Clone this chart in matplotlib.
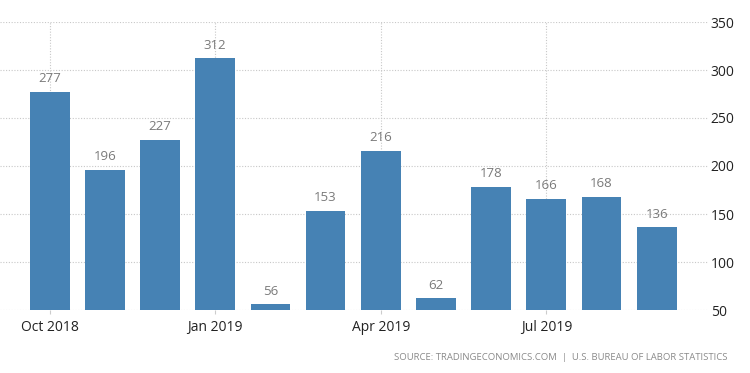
import matplotlib
matplotlib.use("Agg")
import matplotlib.pyplot as plt

months = ["Oct 2018", "Nov 2018", "Dec 2018", "Jan 2019", "Feb 2019", "Mar 2019",
          "Apr 2019", "May 2019", "Jun 2019", "Jul 2019", "Aug 2019", "Sep 2019"]
values = [277, 196, 227, 312, 56, 153, 216, 62, 178, 166, 168, 136]
tick_labels = ["Oct 2018", "Jan 2019", "Apr 2019", "Jul 2019"]
yticks = [50, 100, 150, 200, 250, 300, 350]
baseline = 50

plt.rcParams['font.family'] = ['Open Sans', 'DejaVu Sans']

fig = plt.figure(figsize=(7.5, 3.73), dpi=100)
ax = fig.add_axes([0.0, 1 - 310/373, 708/750, (310 - 22)/373])

x = list(range(len(values)))
heights = [v - baseline for v in values]
ax.bar(x, heights, bottom=baseline, width=0.72, color="#4682b4", zorder=3)

for xi, v in zip(x, values):
    ax.text(xi, v + 7, str(v), ha="center", va="bottom", fontsize=9.5, color="#7a7a7a", zorder=4)

ax.set_ylim(50, 350)
ax.set_xlim(-0.9, 11.93)
ax.set_yticks(yticks)
ax.yaxis.tick_right()
ax.tick_params(axis="y", length=0, labelsize=10, labelcolor="#222222", pad=2)

tick_pos = [months.index(t) for t in tick_labels]
ax.set_xticks(tick_pos)
ax.set_xticklabels(tick_labels)
ax.tick_params(axis="x", length=3, color="#cccccc", labelsize=10, labelcolor="#222222", pad=4)

ax.grid(True, axis="both", linestyle=(0, (1, 1.5)), color="#c8c8c8", linewidth=0.8, zorder=0)
for s in ax.spines.values():
    s.set_visible(False)

fig.text(728/750, 1 - 358/373, "SOURCE: TRADINGECONOMICS.COM  |  U.S. BUREAU OF LABOR STATISTICS",
         ha="right", va="center", fontsize=6.8, color="#8a8a8a")

fig.savefig("out.png", dpi=100)
